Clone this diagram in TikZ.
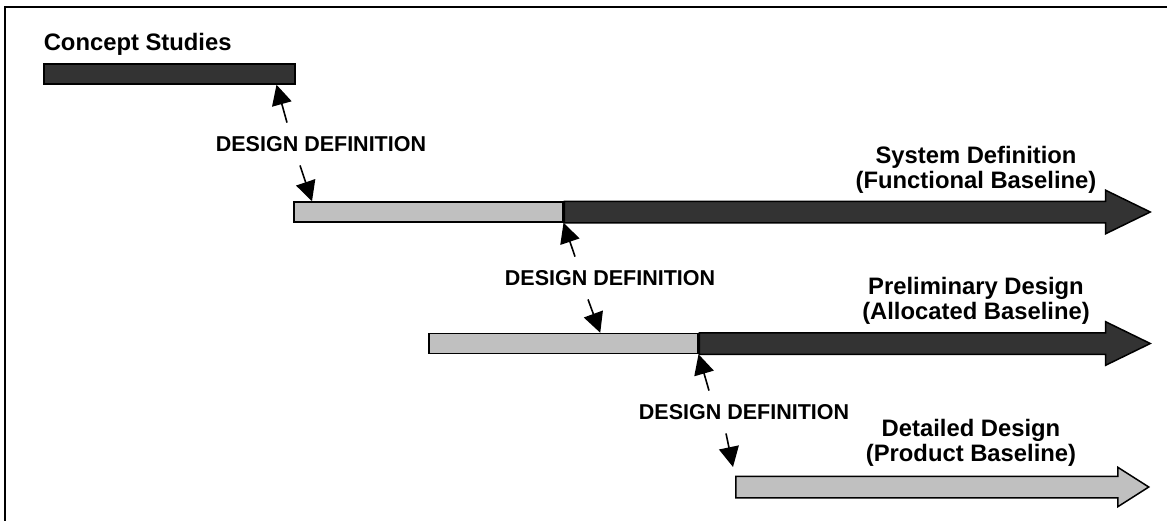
\documentclass[tikz,border=0pt]{standalone}
\usepackage{fontspec}
\setmainfont{Liberation Sans}
\usepackage{tikz}
\usetikzlibrary{arrows.meta,shapes.arrows,positioning}
\definecolor{darkbar}{HTML}{333333}
\definecolor{lightbar}{HTML}{C0C0C0}
\tikzstyle{frame} = [draw,-,line width=2pt]

\begin{document}
\begin{tikzpicture}[x=1pt,y=-1pt,->,>={Triangle[length=20pt,width=20pt]},line width=1.6pt,
  bar/.style={draw=black,line width=1.5pt,minimum height=20pt,inner sep=0pt,anchor=west},
  barrow/.style={single arrow,draw=black,line width=1.5pt,inner sep=0pt,text height=20pt,
    text depth=0pt,text width=0pt,single arrow head indent=0pt,anchor=tail},
  title/.style={font=\bfseries\fontsize{23.8}{25}\selectfont,align=center},
  defn/.style={font=\bfseries\fontsize{21.5}{24}\selectfont,inner xsep=0pt,inner ysep=13pt}]

  \useasboundingbox (0,0) rectangle (1167,520);
  \path[frame] (5,530) -- (5,7) -- (1180,7);

  % concept studies
  \node[bar,fill=darkbar,minimum width=251pt] (cs) at (43,74) {};
  \node[title,anchor=base west,inner sep=0pt] (cslabel) at (43,50) {Concept Studies};

  % system definition
  \node[bar,fill=lightbar,minimum width=269pt] (sdlight) at (293,212) {};
  \node[barrow,fill=darkbar,minimum height=586pt,single arrow head extend=11pt,
    single arrow tip angle=52] (sdarrow) at (sdlight.east) {};
  \node[title] (sdlabel) at (976,170) {System Definition\\(Functional Baseline)};

  % preliminary design
  \node[bar,fill=lightbar,minimum width=269pt] (pdlight) at (428,343.5) {};
  \node[barrow,fill=darkbar,minimum height=451pt,single arrow head extend=11pt,
    single arrow tip angle=52] (pdarrow) at (pdlight.east) {};
  \node[title] (pdlabel) at (976,301) {Preliminary Design\\(Allocated Baseline)};

  % detailed design
  \node[barrow,fill=lightbar,minimum height=413pt,single arrow head extend=9pt,
    single arrow tip angle=65] (ddarrow) at (735,487) {};
  \node[title] (ddlabel) at (971,443) {Detailed Design\\(Product Baseline)};

  \node[defn] (def1) at (321,144) {DESIGN DEFINITION};
  \node[defn] (def2) at (610,278) {DESIGN DEFINITION};
  \node[defn] (def3) at (744,412) {DESIGN DEFINITION};

  \path
    ([xshift=-34pt]def1.north) edge ([xshift=-19pt]cs.south east)
    ([xshift=-21pt]def1.south) edge ([xshift=19pt]sdlight.north west)
    ([xshift=-35pt]def2.north) edge (sdlight.south east)
    ([xshift=-22pt]def2.south) edge ([xshift=37pt]pdlight.north)
    ([xshift=-35pt]def3.north) edge (pdlight.south east)
    ([xshift=-18pt]def3.south) edge ([shift={(-2pt,20pt)}]ddarrow.tail);

\end{tikzpicture}
\end{document}
